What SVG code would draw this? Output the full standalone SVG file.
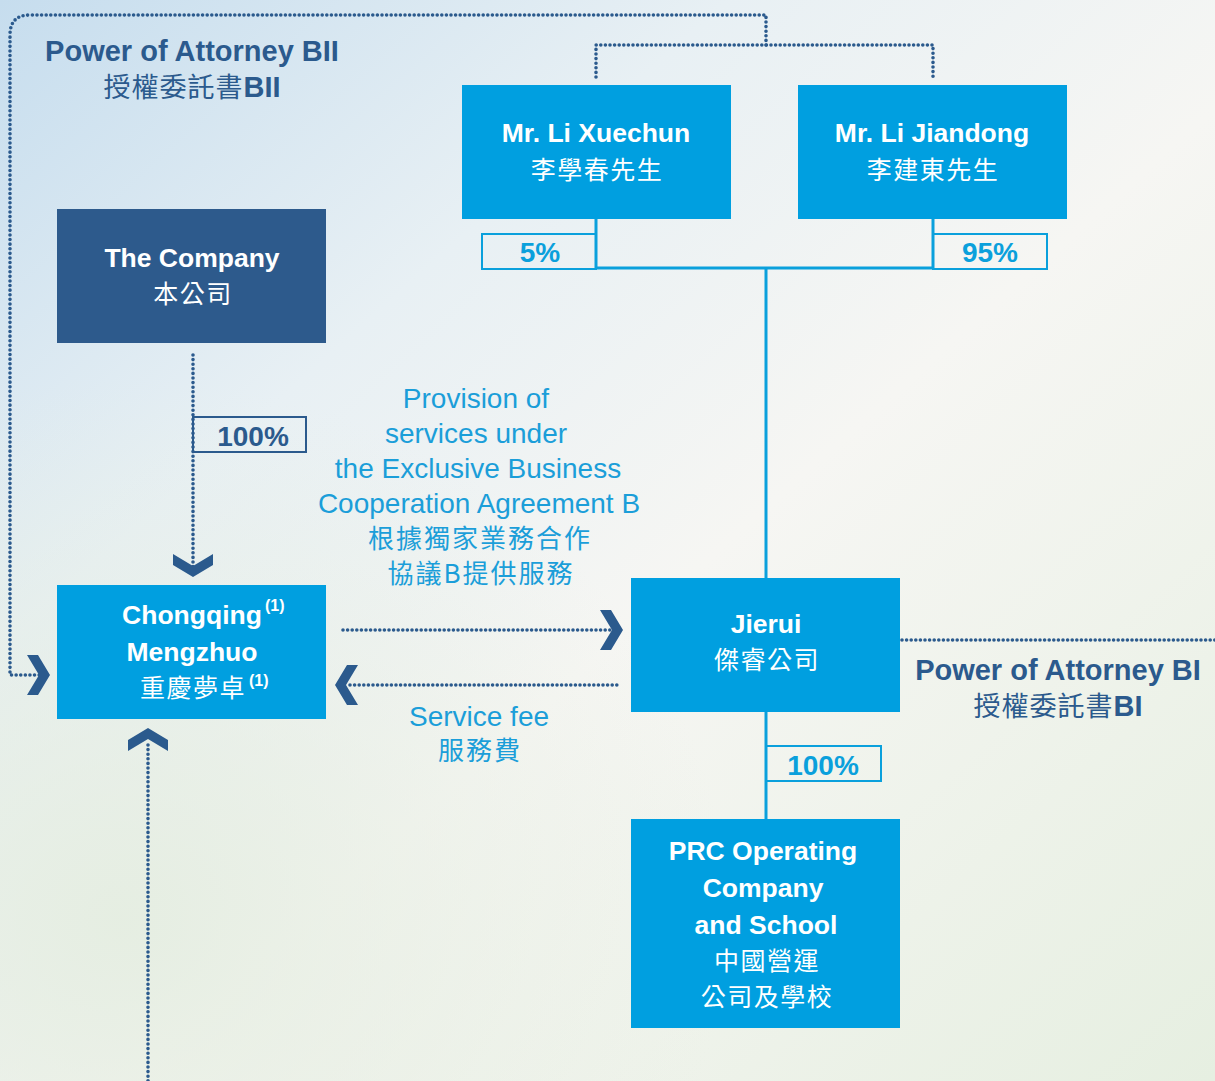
<svg xmlns="http://www.w3.org/2000/svg" xmlns:xlink="http://www.w3.org/1999/xlink" width="1215" height="1081" viewBox="0 0 1215 1081">
<defs>
<linearGradient id="bg" x1="0" y1="0" x2="1" y2="1">
<stop offset="0" stop-color="#c6ddee"/>
<stop offset="0.3" stop-color="#e8f0f4"/>
<stop offset="0.55" stop-color="#f6f6f3"/>
<stop offset="1" stop-color="#e6efe1"/>
</linearGradient>
<radialGradient id="bg2" cx="0.1" cy="0.85" r="0.5">
<stop offset="0" stop-color="#e4ede0" stop-opacity="0.9"/>
<stop offset="1" stop-color="#e4ede0" stop-opacity="0"/>
</radialGradient>
<path id="chev" d="M-23,-20 L-12,-20 L0,0 L-12,20 L-23,20 L-11,0 Z" fill="#2b5a8d"/>
<style>
.dot{fill:none;stroke:#2b5a8d;stroke-width:3.6;stroke-linecap:round;stroke-dasharray:0 4.6}
.sol{fill:none;stroke:#0aa0dc;stroke-width:3}
.boxb{fill:#009fe0}
.boxd{fill:#2d5a8c}
.wt{fill:#ffffff;font-family:"Liberation Sans",Arial,"Noto Sans CJK TC",sans-serif;font-weight:bold;font-size:26.5px;text-anchor:middle}
.wc{fill:#ffffff;font-family:"Noto Sans CJK TC","Noto Sans CJK SC",sans-serif;font-size:25px;letter-spacing:1.5px;text-anchor:middle}
.sup{font-size:16px;font-weight:bold;font-family:"Liberation Sans",Arial,sans-serif;fill:#ffffff}
.poa{fill:#2b5a8d;font-family:"Liberation Sans",Arial,sans-serif;font-weight:bold;font-size:29px;text-anchor:middle}
.poac{fill:#2b5a8d;font-family:"Noto Sans CJK TC","Noto Sans CJK SC",sans-serif;font-size:27px;letter-spacing:1px;text-anchor:middle}
.lb{fill:#1b9ed9;font-family:"Liberation Sans",Arial,sans-serif;font-size:28px;text-anchor:middle}
.lbc{fill:#1b9ed9;font-family:"Noto Sans CJK TC","Noto Sans CJK SC",sans-serif;font-size:26px;letter-spacing:2px;text-anchor:middle}
.pct{fill:#0aa0dc;font-family:"Liberation Sans",Arial,sans-serif;font-weight:bold;font-size:28px;text-anchor:middle}
</style>
</defs>
<rect width="1215" height="1081" fill="url(#bg)"/>
<rect width="1215" height="1081" fill="url(#bg2)"/>

<g id="connectors">
<path class="dot" d="M766,45 V15 H30 Q10,15 10,35 V675 H40"/>
<path class="dot" d="M596,77 V45 H933 V77"/>
<path class="dot" d="M193,355 V568"/>
<path class="dot" d="M343,630 H610"/>
<path class="dot" d="M350,685 H620"/>
<path class="dot" d="M902,640 H1215"/>
<path class="dot" d="M148,745 V1081"/>
<use xlink:href="#chev" transform="translate(193,577) rotate(90)"/>
<use xlink:href="#chev" transform="translate(50,675)"/>
<use xlink:href="#chev" transform="translate(148,728) rotate(-90)"/>
<use xlink:href="#chev" transform="translate(623,630)"/>
<use xlink:href="#chev" transform="translate(335,685) rotate(180)"/>
<path class="sol" d="M596,219 V268 H933 V219"/>
<path class="sol" d="M766,268 V578"/>
<path class="sol" d="M766,712 V819"/>
<rect x="482" y="234" width="114" height="35" fill="none" stroke="#0aa0dc" stroke-width="2"/>
<rect x="933" y="234" width="114" height="35" fill="none" stroke="#0aa0dc" stroke-width="2"/>
<rect x="193" y="417" width="113" height="35" fill="none" stroke="#2b5a8d" stroke-width="2"/>
<rect x="766" y="746" width="115" height="35" fill="none" stroke="#0aa0dc" stroke-width="2"/>
<text class="pct" x="540" y="262">5%</text>
<text class="pct" x="990" y="262">95%</text>
<text class="pct" x="253" y="446" style="fill:#2b5a8d">100%</text>
<text class="pct" x="823" y="775">100%</text>
</g>

<g id="label-bii">
<text class="poa" x="192" y="61">Power of Attorney BII</text>
<text class="poac" x="192" y="97">授權委託書<tspan style="font-family:'Liberation Sans',Arial,sans-serif;font-weight:bold;font-size:29px;letter-spacing:0">BII</tspan></text>
</g>

<g id="label-bi">
<text class="poa" x="1058" y="680">Power of Attorney BI</text>
<text class="poac" x="1058" y="716">授權委託書<tspan style="font-family:'Liberation Sans',Arial,sans-serif;font-weight:bold;font-size:29px;letter-spacing:0">BI</tspan></text>
</g>

<g id="label-provision">
<text class="lb" x="476" y="408">Provision of</text>
<text class="lb" x="476" y="443">services under</text>
<text class="lb" x="478" y="478">the Exclusive Business</text>
<text class="lb" x="479" y="513">Cooperation Agreement B</text>
<text class="lbc" x="480" y="548">根據獨家業務合作</text>
<text class="lbc" x="481" y="583">協議B提供服務</text>
</g>

<g id="label-fee">
<text class="lb" x="479" y="726">Service fee</text>
<text class="lbc" x="480" y="760">服務費</text>
</g>

<g id="node-xuechun">
<rect class="boxb" x="462" y="85" width="269" height="134"/>
<text class="wt" x="596" y="142">Mr. Li Xuechun</text>
<text class="wc" x="597" y="179">李學春先生</text>
</g>

<g id="node-jiandong">
<rect class="boxb" x="798" y="85" width="269" height="134"/>
<text class="wt" x="932" y="142">Mr. Li Jiandong</text>
<text class="wc" x="933" y="179">李建東先生</text>
</g>

<g id="node-company">
<rect class="boxd" x="57" y="209" width="269" height="134"/>
<text class="wt" x="192" y="267">The Company</text>
<text class="wc" x="193" y="303">本公司</text>
</g>

<g id="node-chongqing">
<rect class="boxb" x="57" y="585" width="269" height="134"/>
<text class="wt" x="192" y="624">Chongqing</text>
<text class="sup" x="265" y="611">(1)</text>
<text class="wt" x="192" y="661">Mengzhuo</text>
<text class="wc" x="193" y="697">重慶夢卓</text>
<text class="sup" x="249" y="686">(1)</text>
</g>

<g id="node-jierui">
<rect class="boxb" x="631" y="578" width="269" height="134"/>
<text class="wt" x="766" y="633">Jierui</text>
<text class="wc" x="767" y="669">傑睿公司</text>
</g>

<g id="node-prc">
<rect class="boxb" x="631" y="819" width="269" height="209"/>
<text class="wt" x="763" y="860">PRC Operating</text>
<text class="wt" x="763" y="897">Company</text>
<text class="wt" x="766" y="934">and School</text>
<text class="wc" x="767" y="970">中國營運</text>
<text class="wc" x="767" y="1006">公司及學校</text>
</g>
</svg>
